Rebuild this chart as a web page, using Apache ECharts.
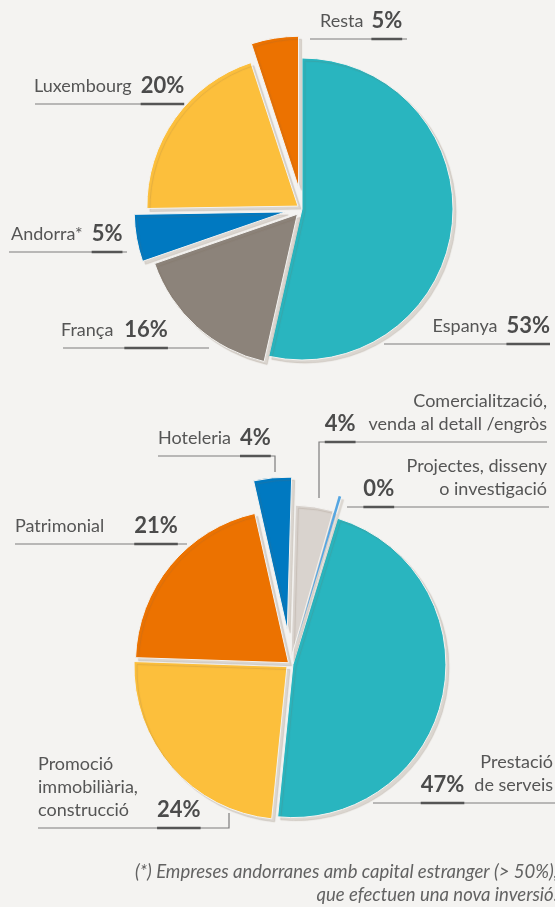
<!DOCTYPE html>
<html>
<head>
<meta charset="utf-8">
<script src="https://cdn.jsdelivr.net/npm/echarts@6/dist/echarts.min.js"></script>
<style>
  html, body { margin: 0; padding: 0; background: #f4f3f1; }
  #chart { width: 555px; height: 907px; }
</style>
</head>
<body>
<div id="chart"></div>
<script>
// Foreign investment by country of origin (%)
const originNames = ['Espanya', 'França', 'Andorra*', 'Luxembourg', 'Resta'];
const originValues = [53, 16, 5, 20, 5];

// Foreign investment by sector of activity (%)
const sectorNames = [
  'Prestació de serveis',
  'Promoció immobiliària, construcció',
  'Patrimonial',
  'Hoteleria',
  'Comercialització, venda al detall /engròs',
  'Projectes, disseny o investigació'
];
const sectorValues = [47, 24, 21, 4, 4, 0];

const footnoteLines = [
  '(*) Empreses andorranes amb capital estranger (> 50%),',
  'que efectuen una nova inversió.'
];

// ---- styling ----
const BG = '#f4f3f1';
const FONT = 'Lato, "Open Sans", sans-serif';
const NAME_COLOR = '#555555';
const PCT_COLOR = '#4b4b4b';
const PCT_SIZE = 22;

const originColors = ['#29b5bf', '#8c837a', '#0079c1', '#fcbf3c', '#ec7200'];
const sectorColors = ['#29b5bf', '#fcbf3c', '#ec7200', '#0079c1', '#d9d3ce', '#55a6e2'];

// how far each wedge is pulled out from the centre (px)
const originExplode = [0, 7, 17, 5, 22];
const sectorExplode = [3, 4, 2, 34, 6, 22];

// label boxes: anchor x, underline y, text rows, which row holds the percentage,
// which side of that row it sits on, gap to the name, and the leader polyline
const originLabels = [
  { align: 'right', x: 550, y: 344, rows: ['Espanya'], pctRow: 0, pctSide: 'right', gap: 9,
    line: [[384, 344], [384, 344], [550, 344]] },
  { align: 'left', x: 61, y: 348, rows: ['França'], pctRow: 0, pctSide: 'right', gap: 11,
    line: [[209, 348], [209, 348], [63, 348]] },
  { align: 'left', x: 11, y: 252, rows: ['Andorra*'], pctRow: 0, pctSide: 'right', gap: 9,
    line: [[127, 252], [127, 252], [9, 252]] },
  { align: 'left', x: 34, y: 104, rows: ['Luxembourg'], pctRow: 0, pctSide: 'right', gap: 9,
    line: [[177, 104], [177, 104], [35, 104]] },
  { align: 'left', x: 320, y: 39, rows: ['Resta'], pctRow: 0, pctSide: 'right', gap: 8,
    line: [[407, 39], [407, 39], [310, 39]] }
];
const sectorLabels = [
  { align: 'right', x: 553, y: 803, rows: ['Prestació', 'de serveis'], pctRow: 1, pctSide: 'left', gap: 10,
    line: [[373, 803], [373, 803], [560, 803]] },
  { align: 'left', x: 38, y: 828, rows: ['Promoció', 'immobiliària,', 'construcció'], pctRow: 2, pctSide: 'right', gap: 28,
    line: [[229, 813], [229, 828], [38, 828]] },
  { align: 'left', x: 15, y: 544, rows: ['Patrimonial'], pctRow: 0, pctSide: 'right', gap: 30,
    line: [[187, 544], [187, 544], [15, 544]] },
  { align: 'left', x: 158, y: 456, rows: ['Hoteleria'], pctRow: 0, pctSide: 'right', gap: 9,
    line: [[275, 472], [275, 456], [158, 456]] },
  { align: 'right', x: 547, y: 442, rows: ['Comercialització,', 'venda al detall /engròs'], pctRow: 1, pctSide: 'left', gap: 13,
    line: [[319, 498], [319, 442], [547, 442]] },
  { align: 'right', x: 547, y: 507, rows: ['Projectes, disseny', 'o investigació'], pctRow: 1, pctSide: 'left', gap: 45,
    line: [[347, 507], [347, 507], [549, 507]] }
];

const measureCtx = document.createElement('canvas').getContext('2d');
function textWidth(str, font) {
  measureCtx.font = font;
  return measureCtx.measureText(str).width;
}

function labelFor(spec, value) {
  const pct = Math.round(value) + '%';
  const rows = spec.rows.map((r, k) => {
    if (k !== spec.pctRow) return '{n|' + r + '}';
    return spec.pctSide === 'right'
      ? '{n|' + r + '}{v|' + pct + '}'
      : '{v|' + pct + '}{n|' + r + '}';
  });
  rows.push('{u|}');
  const vStyle = {
    fontFamily: FONT, fontSize: PCT_SIZE, fontWeight: 'bold', color: PCT_COLOR, lineHeight: 23,
    padding: spec.pctSide === 'right' ? [0, 0, 0, spec.gap] : [0, spec.gap, 0, 0]
  };
  if (spec.pctSide === 'left') vStyle.align = 'left';
  return {
    show: true,
    position: 'outside',
    align: spec.align,
    formatter: rows.join('\n'),
    rich: {
      n: { fontFamily: FONT, fontSize: 18, color: NAME_COLOR, lineHeight: 23 },
      v: vStyle,
      u: {
        width: textWidth(pct, 'bold ' + PCT_SIZE + 'px Lato'),
        height: 2.5, lineHeight: 8, verticalAlign: 'bottom',
        backgroundColor: '#555', align: spec.pctSide
      }
    }
  };
}

// one series per wedge so that each can be pulled out by its own distance
function explodedPie(names, values, colors, explode, labels, center, radius, startAngle) {
  const total = values.reduce((a, b) => a + b, 0);
  let cum = 0;
  return values.map((v, i) => {
    const mid = (startAngle - (cum + v / 2) / total * 360) * Math.PI / 180;
    cum += v;
    const d = explode[i];
    const spec = labels[i];
    return {
      type: 'pie',
      silent: true,
      animation: false,
      center: [center[0] + d * Math.cos(mid), center[1] - d * Math.sin(mid)],
      radius: radius,
      startAngle: startAngle,
      clockwise: true,
      minAngle: 1,
      avoidLabelOverlap: false,
      emphasis: { disabled: true },
      label: { show: false },
      labelLine: { show: false },
      labelLayout: function (p) {
        if (p.dataIndex !== i) return {};
        return {
          x: spec.x, y: spec.y + 1.25, align: spec.align, verticalAlign: 'bottom',
          labelLinePoints: spec.line
        };
      },
      data: values.map((val, j) => {
        if (j !== i) {
          return {
            name: names[j], value: val,
            itemStyle: { color: 'rgba(0,0,0,0)', borderWidth: 0, shadowColor: 'rgba(0,0,0,0)' },
            label: { show: false }, labelLine: { show: false }
          };
        }
        return {
          name: names[j], value: val,
          itemStyle: {
            color: colors[j],
            borderColor: BG, borderWidth: val === 0 ? 0 : 1,
            shadowColor: 'rgba(120,100,80,0.2)', shadowBlur: 1,
            shadowOffsetX: 3, shadowOffsetY: 3
          },
          label: labelFor(spec, val),
          labelLine: { show: true, smooth: false, lineStyle: { color: '#7c7c7c', width: 1.2 } }
        };
      })
    };
  });
}

const chart = echarts.init(document.getElementById('chart'), null, { renderer: 'canvas' });

const series = []
  .concat(explodedPie(originNames, originValues, originColors, originExplode, originLabels, [302, 209], 151, 90))
  .concat(explodedPie(sectorNames, sectorValues, sectorColors, sectorExplode, sectorLabels, [290, 664], 153, 73));

chart.setOption({
  backgroundColor: BG,
  animation: false,
  series: series,
  graphic: footnoteLines.map((t, k) => ({
    type: 'text',
    silent: true,
    style: {
      text: t,
      x: 558, y: 872 + k * 23,
      align: 'right', verticalAlign: 'middle',
      font: 'italic 18.5px Lato, "Open Sans", sans-serif',
      fill: '#626262'
    }
  }))
});
</script>
</body>
</html>
